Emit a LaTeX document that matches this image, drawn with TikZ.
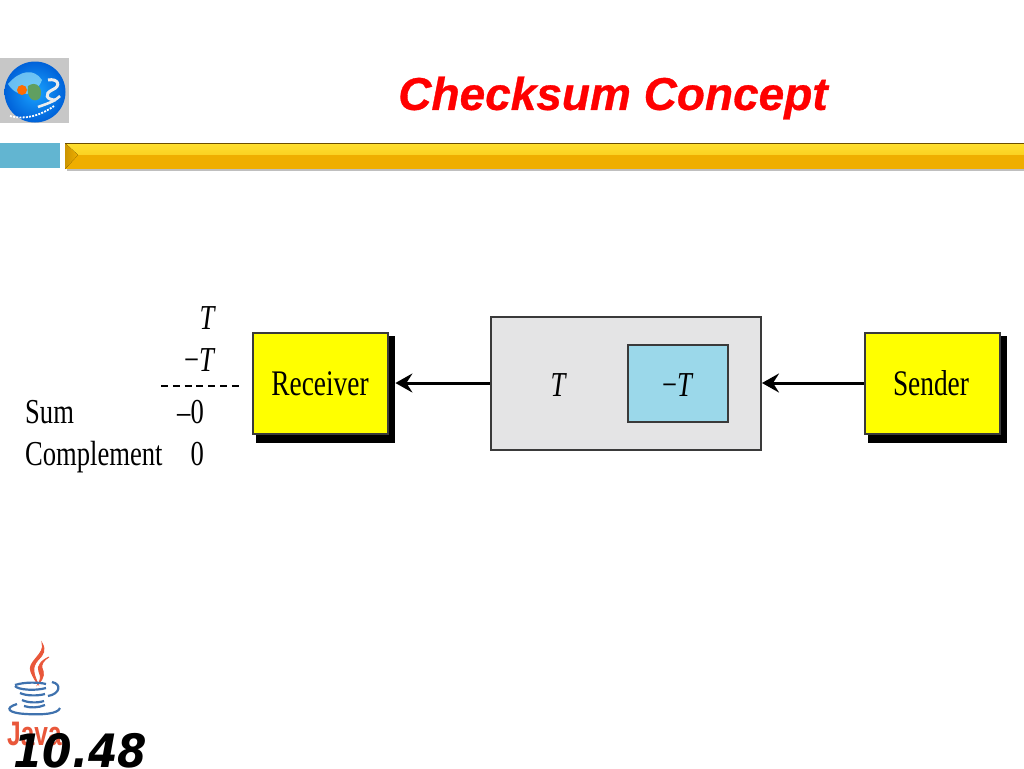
\documentclass[tikz,border=0pt]{standalone}
\usepackage{graphicx}
\usepackage{fontspec}
\setmainfont{Liberation Serif}
\newfontfamily\headfont{Liberation Sans}
\newfontfamily\titlefont[ItalicFont={Liberation Sans Bold Italic},ItalicFeatures={FakeBold=0.7}]{Liberation Sans}
\newfontfamily\numfont{DejaVu Sans}
\usetikzlibrary{arrows.meta,shadings}
\definecolor{boxyellow}{HTML}{FFFF00}
\definecolor{panelgray}{HTML}{E4E4E5}
\definecolor{cellblue}{HTML}{9BD8EA}
\definecolor{edgegray}{HTML}{3A3A3A}
\definecolor{tabblue}{HTML}{62B5D1}
\definecolor{goldtop}{HTML}{FFE030}
\definecolor{goldlow}{HTML}{EFAE00}
\definecolor{javared}{HTML}{E9573A}
\definecolor{javablue}{HTML}{3F72AE}
\newcommand{\narrow}[1]{\scalebox{0.76}[1]{#1}}
\tikzset{
  x=1pt,y=-1pt,
  plainbox/.style={draw=edgegray,line width=2pt,inner sep=0pt,anchor=north west},
  actorbox/.style={plainbox,fill=boxyellow,minimum width=135pt,minimum height=101pt},
  dropbox/.style={fill=black,inner sep=0pt,anchor=north west,minimum width=139pt,minimum height=107pt},
  word/.style={inner sep=0pt,font=\fontsize{36}{36}\selectfont},
  figtext/.style={inner sep=0pt,font=\fontsize{35}{35}\selectfont},
  flow/.style={line width=3pt,-{Stealth[length=17pt,width=19pt,inset=6pt]}},
}
\begin{document}
\begin{tikzpicture}
\useasboundingbox (0,0) rectangle (1024,768);
\fill[white] (0,0) rectangle (1024,768);

% logo
\fill[black!22] (0,58) rectangle (69,123);
\shade[inner color=cyan!60!blue!90!white,outer color=blue!55!cyan!85!black] (35,92) circle (30.5);
\fill[cyan!45!white,opacity=.75] (8,84) .. controls (20,70) and (34,68) .. (42,80) .. controls (36,96) and (18,100) .. (8,84);
\fill[orange!85!red] (22,90) circle (5);
\fill[green!25!gray] (28,86) .. controls (36,80) and (44,88) .. (40,98) .. controls (34,104) and (26,98) .. (28,86);
\draw[white!85!gray,line width=3pt] (48,80) .. controls (58,78) and (62,86) .. (52,90) .. controls (44,94) and (46,100) .. (56,100);
\draw[white!85!gray,line width=2.6pt] (38,107) .. controls (46,104) and (54,102) .. (60,96);
\draw[white,line width=1.8pt,dash pattern=on 2pt off 1.2pt] (10,116) .. controls (24,120) and (40,116) .. (54,106);

% header
\node[inner sep=0pt,font=\titlefont\itshape\fontsize{46}{46}\selectfont,text=red] (title) at (613,98) {Checksum Concept};
\fill[tabblue] (0,143) rectangle (60,168);
\fill[black!25] (67,168) rectangle (1024,171);
\fill[top color=goldtop,bottom color=goldtop!70!goldlow] (65,143) rectangle (1024,155);
\fill[goldlow] (65,155) rectangle (1024,169);
\fill[left color=goldlow!85!black,right color=goldlow] (65,143) -- (78,155) -- (65,169) -- cycle;
\fill[black!55!goldlow] (65,143) rectangle (1024,144);

% sender, panel, receiver
\node[dropbox] (recvdrop) at (256,336) {};
\node[actorbox] (receiver) at (252,332) {};
\node[word] at (320,384) {\narrow{Receiver}};
\node[dropbox] (senddrop) at (868,336) {};
\node[actorbox] (sender) at (864,332) {};
\node[word] at (931,383) {\narrow{Sender}};
\node[plainbox,fill=panelgray,minimum width=270pt,minimum height=133pt] (panel) at (490,316) {};
\node[plainbox,fill=cellblue,minimum width=100pt,minimum height=77pt] (cell) at (627,344) {};
\node[figtext] (paneltext) at (558,385) {\narrow{\itshape T}};
\node[figtext] (celltext) at (677,385) {\narrow{−\itshape T}};

\coordinate (senderin) at (sender.west |- 0,383);
\coordinate (panelout) at (panel.east |- 0,383);
\coordinate (panelin) at (panel.west |- 0,383);
\coordinate (receiverin) at (recvdrop.east |- 0,383);
\draw[flow] (senderin) -- (panelout);
\draw[flow] (panelin) -- (receiverin);

% calculation
\node[figtext] (t1) at (207,318) {\narrow{\itshape T}};
\node[figtext,anchor=east] (t2) at (214,360) {\narrow{−\itshape T}};
\coordinate (ruleL) at (161,386);
\coordinate (ruleR) at (239,386);
\draw[line width=2pt,dash pattern=on 7pt off 4.83pt] (ruleL) -- (ruleR);
\node[figtext,anchor=base west] (sumlabel) at (25,423) {\narrow{Sum}};
\node[figtext,anchor=base east] (sumvalue) at (204,423) {\narrow{–0}};
\node[figtext,anchor=base west] (complabel) at (25,465) {\narrow{Complement}};
\node[figtext,anchor=base east] (compvalue) at (204,465) {\narrow{0}};

% java logo
\filldraw[javared,line width=.8pt] (42,643) .. controls (46,654) and (26,662) .. (31,672) .. controls (33,677) and (36,682) .. (38,684) .. controls (34,674) and (31,668) .. (38,660) .. controls (44,654) and (46,650) .. (42,643) -- cycle;
\filldraw[javared,line width=.8pt] (49,657) .. controls (42,660) and (36,666) .. (39,672) .. controls (41,676) and (41,680) .. (38,684) .. controls (45,678) and (44,672) .. (42,668) .. controls (41,664) and (44,660) .. (49,657) -- cycle;
\begin{scope}[javablue,line width=2.2pt]
\draw (15,685) .. controls (24,682) and (38,682) .. (46,684);
\draw (52,682) .. controls (62,684) and (60,694) .. (48,696);
\draw (15,686) .. controls (18,690) and (36,691) .. (46,688);
\draw (20,693) .. controls (26,696) and (38,696) .. (45,694);
\draw (22,700) .. controls (28,703) and (38,703) .. (44,701);
\draw (24,706) .. controls (30,708) and (38,708) .. (45,705);
\draw (17,704) .. controls (4,708) and (8,713) .. (26,714) .. controls (42,715) and (58,714) .. (60,708);
\end{scope}
\node[inner sep=0pt,anchor=base west,font=\headfont\bfseries\fontsize{34}{34}\selectfont,text=javared] (javaword) at (7,745) {\scalebox{0.72}[1]{Java}};
\node[inner sep=0pt,anchor=base west,font=\numfont\bfseries\itshape\fontsize{46}{46}\selectfont] (pagenum) at (13,767) {\scalebox{0.92}[1]{10.48}};
\end{tikzpicture}
\end{document}
